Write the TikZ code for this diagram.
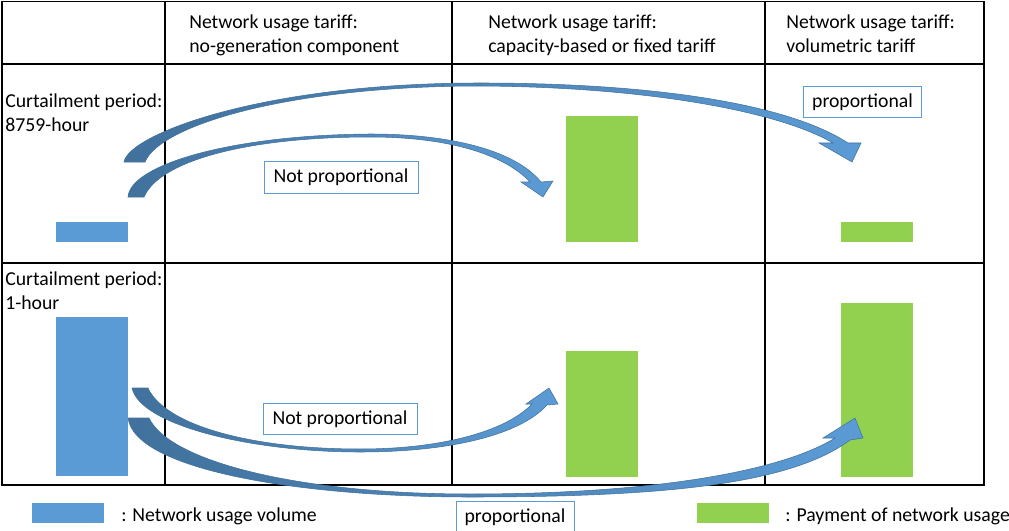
\documentclass[tikz,border=0pt]{standalone}
\usepackage{fontspec}
\setmainfont{Carlito}
\usepackage{xcolor}
\usetikzlibrary{calc}
\usetikzlibrary{positioning}

\definecolor{volblue}{HTML}{5B9BD5}
\definecolor{paygreen}{HTML}{92D050}
\definecolor{arrowdark}{HTML}{41719C}

\begin{document}
\begin{tikzpicture}[x=0.75pt,y=-0.75pt,font=\fontsize{14.8}{18}\selectfont]
		\tikzstyle{tableline} = [draw, line width=0.9pt]
		\tikzstyle{cell} = [inner sep=0pt, anchor=base west]
		\tikzstyle{volume} = [fill=volblue, inner sep=0pt, minimum width=54pt]
		\tikzstyle{payment} = [fill=paygreen, inner sep=0pt, minimum width=54pt]
		\tikzstyle{flow} = [draw=arrowdark, line width=0.4pt, left color=arrowdark, right color=volblue]
		\tikzstyle{remark} = [draw=volblue, fill=white, line width=0.6pt, minimum height=23.5pt, inner sep=0pt]

		\useasboundingbox (0,0) rectangle (1009,531);

		% table
		\draw[tableline] (2,1.5) rectangle (984,485);
		\draw[tableline] (2,64) -- (984,64);
		\draw[tableline] (2,263) -- (984,263);
		\draw[tableline] (165,1.5) -- (165,485);
		\draw[tableline] (452,1.5) -- (452,485);
		\draw[tableline] (765,1.5) -- (765,485);

		% headings
		\node[cell] (NoGenTop) at (189,29) {Network usage tariff:};
		\node[cell] (NoGenBot) at (189,53) {no-generation component};
		\node[cell] (CapTop) at (488,29) {Network usage tariff:};
		\node[cell] (CapBot) at (488,53) {capacity-based or fixed tariff};
		\node[cell] (VolTop) at (786,29) {Network usage tariff:};
		\node[cell] (VolBot) at (786,53) {volumetric tariff};
		\node[cell] (LongTop) at (5,108) {Curtailment period:};
		\node[cell] (LongBot) at (5,132) {8759-hour};
		\node[cell] (ShortTop) at (5,285) {Curtailment period:};
		\node[cell] (ShortBot) at (5,309) {1-hour};

		% bars
		\node[volume, minimum height=15pt] (VolLong) at (92,232) {};
		\node[payment, minimum height=94.5pt] (CapLong) at (601.5,179) {};
		\node[payment, minimum height=15pt] (MetLong) at (876.5,232) {};
		\node[volume, minimum height=119.25pt] (VolShort) at (92,396.5) {};
		\node[payment, minimum height=94.5pt] (CapShort) at (601.5,414) {};
		\node[payment, minimum height=130.5pt] (MetShort) at (876.5,390) {};

		% curved arrows
		\path[flow] (124,162) .. controls (128,135) and (260,83) .. (480,83) .. controls (660,83) and (790,105) .. (848,143) -- (861,143) -- (852,162) -- (819,143) -- (833,143) .. controls (780,112) and (650,87) .. (480,86) .. controls (290,86) and (160,125) .. (145,162) -- cycle;
		\path[flow] (128,197) .. controls (130,165) and (230,135) .. (370,134) .. controls (450,134) and (515,150) .. (541,182) -- (553,181) -- (543,197) -- (521,182) -- (530,182) .. controls (505,155) and (450,137) .. (370,137) .. controls (250,137) and (160,160) .. (144,197) -- cycle;
		\path[flow] (132,388) .. controls (140,425) and (250,452) .. (360,452) .. controls (450,452) and (520,435) .. (547,405) -- (558,404) -- (549,388) -- (526,404) -- (532,404) .. controls (505,432) and (440,449) .. (360,449) .. controls (250,449) and (165,425) .. (148,388) -- cycle;
		\path[flow] (128,418) .. controls (135,470) and (300,497) .. (470,497) .. controls (660,497) and (790,485) .. (850,440) -- (863,438) -- (855,418) -- (823,438) -- (835,438) .. controls (780,472) and (650,494) .. (470,494) .. controls (300,494) and (170,462) .. (149,418) -- cycle;

		% labels on the arrows
		\node[remark, minimum width=115.5pt] (NotPropLong) at (341,177.5) {Not proportional};
		\node[remark, minimum width=89pt] (PropLong) at (862.5,102) {proportional};
		\node[remark, minimum width=115.5pt] (NotPropShort) at (340,419) {Not proportional};
		\node[remark, minimum width=88.5pt] (PropShort) at (515,517) {proportional};

		% legend
		\node[volume, minimum height=15pt] (KeyVol) at (68,513) {};
		\node[cell] (KeyVolText) at (121,521) {: Network usage volume};
		\node[payment, minimum height=15pt] (KeyPay) at (732.5,513) {};
		\node[cell] (KeyPayText) at (785,521) {: Payment of network usage};

	\end{tikzpicture}
\end{document}
